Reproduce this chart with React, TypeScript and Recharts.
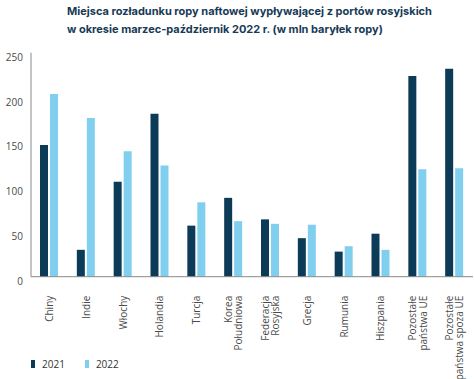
import React from 'react';
import { BarChart, Bar, XAxis, YAxis, Legend } from 'recharts';

const categories = [
  'Chiny', 'Indie', 'Włochy', 'Holandia', 'Turcja', 'Korea\nPołudniowa',
  'Federacja\nRosyjska', 'Grecja', 'Rumunia', 'Hiszpania',
  'Pozostałe\npaństwa UE', 'Pozostałe\npaństwa spoza UE',
];
const values2021 = [147, 30, 106, 182, 57, 88, 64, 43, 28, 48, 224, 232];
const values2022 = [204, 177, 140, 124, 83, 62, 59, 58, 34, 30, 120, 121];
const yTicks = [0, 50, 100, 150, 200, 250];

const DARK = '#0c3b58';
const LIGHT = '#80cfee';

const data = categories.map((name, i) => ({
  name,
  y2021: values2021[i],
  y2022: values2022[i],
}));

const CategoryTick = (props: any) => {
  const { x, y, payload } = props;
  const lines: string[] = String(payload.value).split('\n');
  const step = 10.5;
  return (
    <g transform={`translate(${x},${y + 11})`}>
      {lines.map((line, i) => (
        <text
          key={i}
          transform="rotate(-90)"
          x={0}
          y={(i - (lines.length - 1) / 2) * step}
          dy={3.5}
          textAnchor="end"
          fontSize={10}
          fill="#4a4a4a"
          fontFamily="'Open Sans', sans-serif"
        >
          {line}
        </text>
      ))}
    </g>
  );
};

const ValueTick = (props: any) => {
  const { x, y, payload } = props;
  return (
    <text x={x} y={y + 4.5} dy={3.5} textAnchor="end" fontSize={10} fill="#4a4a4a" fontFamily="'Open Sans', sans-serif">
      {payload.value}
    </text>
  );
};

const LegendContent = () => (
  <div style={{ display: 'flex', alignItems: 'center', fontFamily: "'Open Sans', sans-serif", fontSize: 10, color: '#333' }}>
    <span style={{ display: 'inline-block', width: 4, height: 8, background: DARK, marginRight: 7 }} />
    <span style={{ marginRight: 20 }}>2021</span>
    <span style={{ display: 'inline-block', width: 4, height: 8, background: LIGHT, marginRight: 7 }} />
    <span>2022</span>
  </div>
);

export default function App() {
  return (
    <div style={{ position: 'fixed', left: 0, top: 0, width: 474, height: 379, background: '#fff' }}>
      <div
        style={{
          position: 'absolute', left: 67, top: 2, fontFamily: 'Inter, sans-serif', fontWeight: 700,
          fontSize: 11, lineHeight: '18px', color: '#173a55', whiteSpace: 'nowrap',
        }}
      >
        Miejsca rozładunku ropy naftowej wypływającej z portów rosyjskich<br />
        w okresie marzec-październik 2022 r. (w mln baryłek ropy)
      </div>
      <BarChart
        width={474}
        height={379}
        data={data}
        margin={{ top: 52.7, right: 1, bottom: 0, left: 0 }}
        barSize={8}
        barGap={2}
      >
        <XAxis
          dataKey="name"
          interval={0}
          height={102.3}
          tickLine={false}
          axisLine={{ stroke: '#8a8a8a' }}
          tick={<CategoryTick />}
        />
        <YAxis
          width={31}
          domain={[0, 250]}
          ticks={yTicks}
          tickLine={false}
          axisLine={{ stroke: '#8a8a8a' }}
          tick={<ValueTick />}
        />
        <Legend
          layout="horizontal"
          verticalAlign="middle"
          align="center"
          content={<LegendContent />}
          wrapperStyle={{ position: 'absolute', left: 31, top: 357, width: 150 }}
        />
        <Bar dataKey="y2021" name="2021" fill={DARK} isAnimationActive={false} />
        <Bar dataKey="y2022" name="2022" fill={LIGHT} isAnimationActive={false} />
      </BarChart>
    </div>
  );
}
